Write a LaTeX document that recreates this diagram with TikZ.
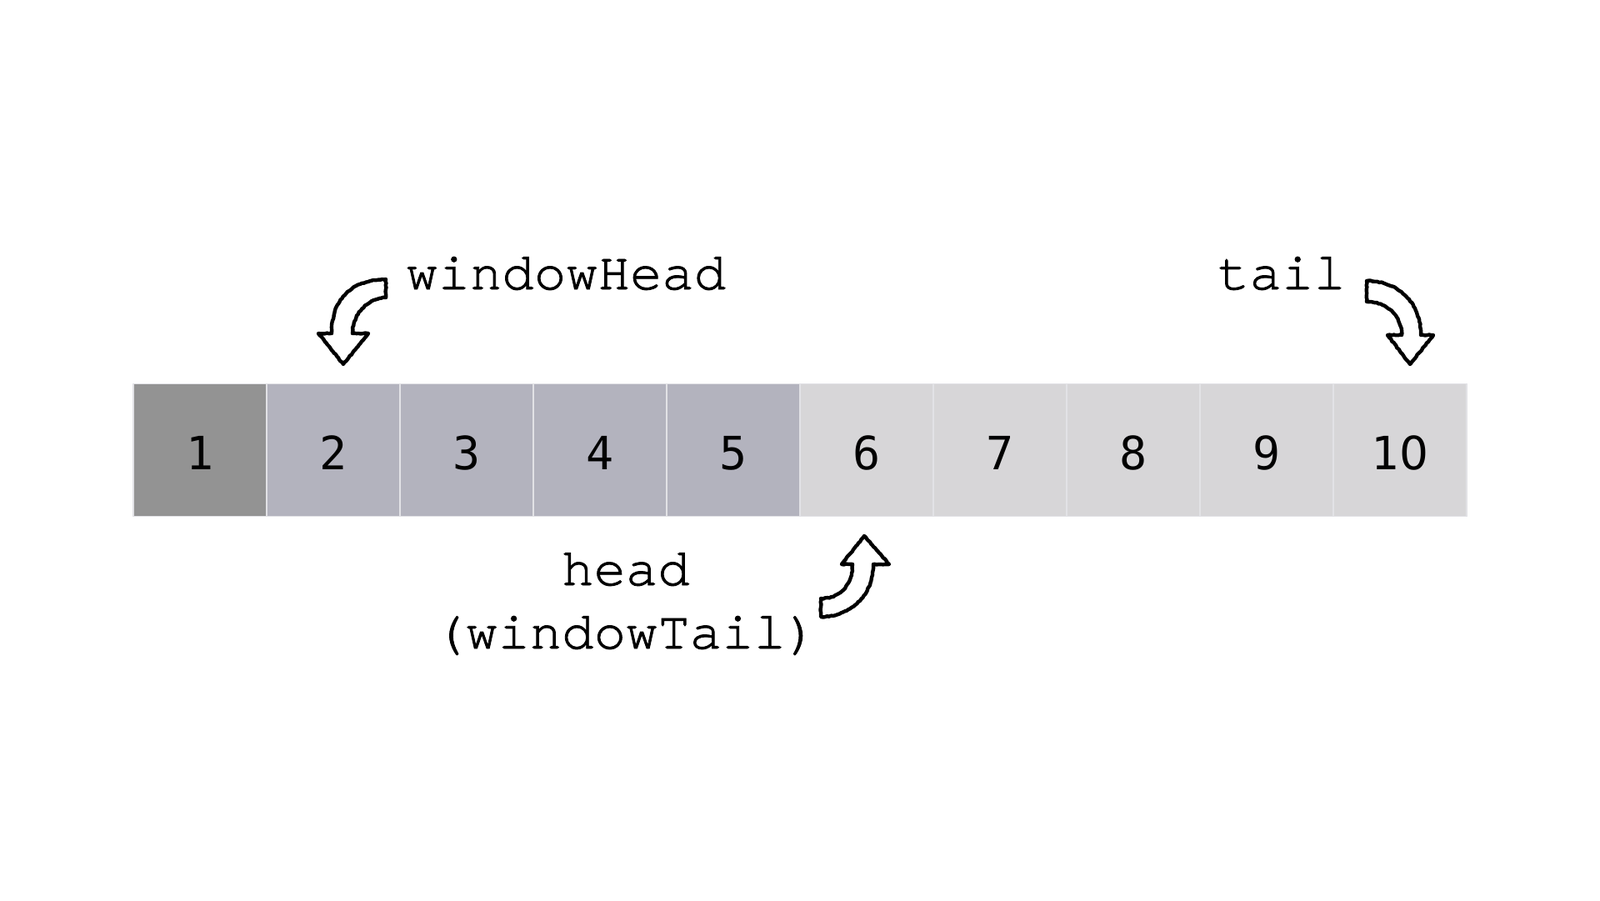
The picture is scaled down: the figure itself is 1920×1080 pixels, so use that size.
\documentclass[tikz,border=0pt]{standalone}
\usepackage{fontspec}
\usetikzlibrary{calc,decorations.pathmorphing}
\setmonofont[FakeBold=1.3]{TeX Gyre Cursor}
\newfontfamily\numfont{DejaVu Sans Mono}
\newfontfamily\zerofont{DejaVu Sans}
\definecolor{cOld}{HTML}{939393}
\definecolor{cWin}{HTML}{B3B3BE}
\definecolor{cQue}{HTML}{D7D6D8}
\definecolor{cEdge}{HTML}{E2E2E6}
\begin{document}
\begin{tikzpicture}[x=1pt,y=-1pt,
  cell/.style={draw=cEdge, line width=1.2pt, minimum width=160pt, minimum height=159.5pt,
    inner sep=0pt, outer sep=0pt, anchor=north west},
  num/.style={font=\numfont\fontsize{55}{60}\selectfont, anchor=base, inner sep=0pt},
  lbl/.style={font=\ttfamily\fontsize{64}{76}\selectfont, inner sep=0pt},
  bentarrow/.style={draw=black, fill=white, line width=4.4pt, line join=round,
    decorate, decoration={random steps, segment length=2.5pt, amplitude=0.5pt}}]
\useasboundingbox (0,0) rectangle (1920,1080);
\fill[white] (0,0) rectangle (1920,1080);
% cells
\foreach \i in {1,...,9}{
  \pgfmathsetmacro{\xx}{160+(\i-1)*160}
  \ifnum\i=1 \def\cc{cOld}\else\ifnum\i<6 \def\cc{cWin}\else\def\cc{cQue}\fi\fi
  \node[cell, fill=\cc] (c\i) at (\xx,460.3) {};
  \node[num] (n\i) at ($(c\i.north)+(0,103)$) {\i};
}
\node[cell, fill=cQue] (c10) at (1600,460.3) {};
\node[num] (n10) at ($(c10.north)+(0,103)$) {1{\zerofont 0}};
% labels
\node[lbl, anchor=base west] (wh) at (487,347) {windowHead};
\node[lbl, anchor=base west] (tl) at (1461,347) {tail};
\node[lbl, anchor=base] (hd) at (751,702) {head};
\node[lbl, anchor=base] (wt) at (751,778) {(windowTail)};
% arrows
\draw[bentarrow] (412,437) -- (382,400) -- (398,400)
  .. controls (398,360) and (420,336) .. (463,335) -- (463,357)
  .. controls (440,358) and (423,378) .. (423,400) -- (442,400) -- cycle;
\draw[bentarrow] (1692,437) -- (1665,402) -- (1682,402)
  .. controls (1682,380) and (1665,362) .. (1640,362) -- (1640,337)
  .. controls (1680,337) and (1705,365) .. (1705,402) -- (1720,402) -- cycle;
\draw[bentarrow] (1037,643) -- (1067,677) -- (1048,677)
  .. controls (1048,715) and (1020,740) .. (985,740) -- (985,718)
  .. controls (1010,718) and (1023,700) .. (1023,677) -- (1010,677) -- cycle;
\end{tikzpicture}
\end{document}
